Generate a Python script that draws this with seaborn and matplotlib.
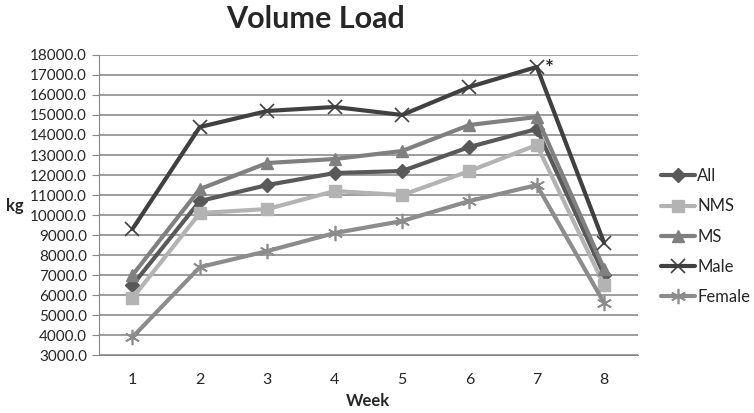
import pandas as pd
import matplotlib.pyplot as plt
import seaborn as sns

# data
weeks = [1, 2, 3, 4, 5, 6, 7, 8]
all_vals = [6500, 10700, 11500, 12100, 12200, 13400, 14300, 7000]
nms_vals = [5850, 10100, 10300, 11200, 11000, 12200, 13500, 6500]
ms_vals = [7000, 11300, 12600, 12800, 13200, 14500, 14900, 7300]
male_vals = [9300, 14400, 15200, 15400, 15000, 16400, 17400, 8600]
female_vals = [3900, 7400, 8200, 9100, 9700, 10700, 11500, 5600]
series_names = ["All", "NMS", "MS", "Male", "Female"]

sns.set_style("white")
plt.rcParams['font.family'] = ['Lato', 'DejaVu Sans']

fig = plt.figure(figsize=(7.54, 4.13), dpi=100)
ax = fig.add_axes([0.131, 0.140, 0.715, 0.727])

styles = {
    "All": dict(color="#595959", marker="D", markersize=7, mew=1),
    "NMS": dict(color="#b3b3b3", marker="s", markersize=9, mew=1),
    "MS": dict(color="#808080", marker="^", markersize=9, mew=1),
    "Male": dict(color="#404040", marker="x", markersize=10, mew=1.2),
    "Female": dict(color="#8c8c8c", marker=(6, 2, 0), markersize=11, mew=1.2),
}
values = [all_vals, nms_vals, ms_vals, male_vals, female_vals]

for name, vals in zip(series_names, values):
    st = styles[name]
    sns.lineplot(x=weeks, y=vals, ax=ax, label=name, color=st["color"],
                 marker=st["marker"], markersize=st["markersize"],
                 markeredgewidth=st["mew"], markeredgecolor=st["color"],
                 linewidth=3)

# asterisk on the Male week 7 point
ax.annotate("*", xy=(weeks[6], male_vals[6]), xytext=(6, -6),
            textcoords="offset points", fontsize=15, fontweight="bold")

ax.set_xlim(0.5, 8.5)
ax.set_ylim(3000, 18000)
ax.set_yticks(range(3000, 18001, 1000))
ax.set_yticklabels([f"{v:.1f}" for v in range(3000, 18001, 1000)], fontsize=11)
ax.set_xticks(weeks)
ax.set_xticklabels([str(w) for w in weeks], fontsize=11.5)
ax.set_xticks([w + 0.5 for w in [0] + weeks], minor=True)
ax.tick_params(axis="x", which="major", length=0, pad=13)
ax.tick_params(axis="x", which="minor", length=5, color="#868686", direction="out")
ax.tick_params(axis="y", length=5, color="#868686", direction="out", left=True)
ax.yaxis.grid(True, color="#8c8c8c", linewidth=1.2)
ax.set_axisbelow(True)
for side in ["top", "right"]:
    ax.spines[side].set_visible(False)
for side in ["left", "bottom"]:
    ax.spines[side].set_color("#868686")

ax.set_xlabel("Week", fontsize=12, fontweight="bold", labelpad=4)
ax.set_ylabel("kg", fontsize=12, fontweight="bold", rotation=0)
ax.yaxis.set_label_coords(-0.155, 0.47)
fig.text(0.419, 0.955, "Volume Load", fontsize=22, fontweight="bold",
         ha="center", va="center")

ax.legend(loc="center left", bbox_to_anchor=(1.022, 0.395), frameon=False,
          fontsize=12, handlelength=2.0, labelspacing=0.85, handletextpad=0.15,
          borderaxespad=0.3)

plt.savefig("out.png", dpi=100)
plt.close()
